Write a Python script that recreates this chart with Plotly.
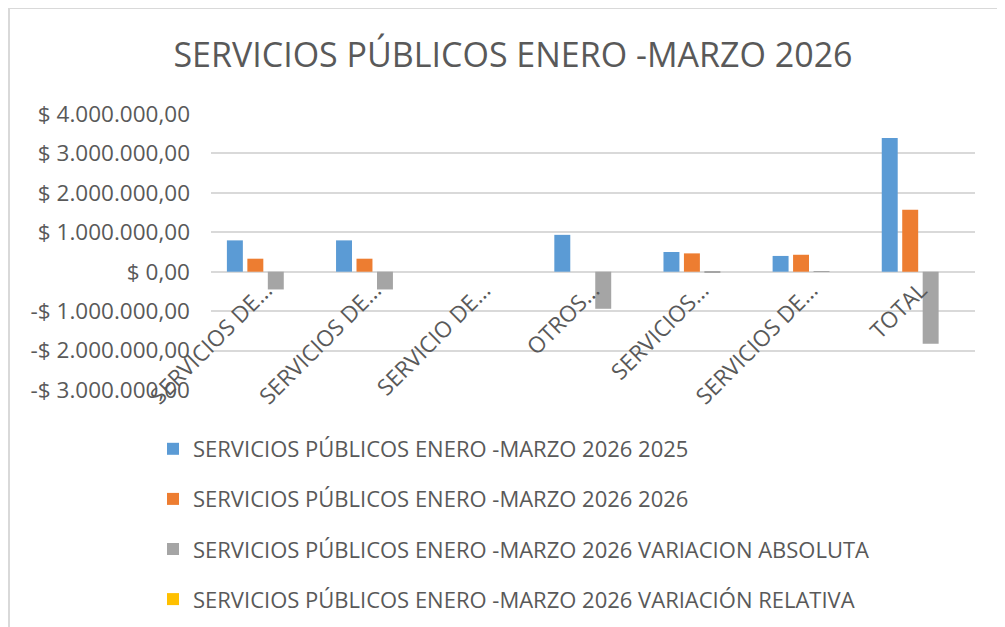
import plotly.graph_objects as go

categories = ["SERVICIOS DE…", "SERVICIOS DE…", "SERVICIO DE…", "OTROS…",
              "SERVICIOS…", "SERVICIOS DE…", "TOTAL"]
series_names = [
    "SERVICIOS PÚBLICOS ENERO -MARZO 2026 2025",
    "SERVICIOS PÚBLICOS ENERO -MARZO 2026 2026",
    "SERVICIOS PÚBLICOS ENERO -MARZO 2026 VARIACION ABSOLUTA",
    "SERVICIOS PÚBLICOS ENERO -MARZO 2026 VARIACIÓN RELATIVA",
]
values_2025 = [795000, 795000, 0, 935000, 500000, 400000, 3390000]
values_2026 = [330000, 330000, 0, 0, 465000, 430000, 1570000]
values_var_abs = [-450000, -450000, 0, -940000, -10000, 10000, -1830000]
values_var_rel = [-0.58, -0.58, 0, -1.0, -0.07, 0.08, -0.54]
y_ticks = [4000000, 3000000, 2000000, 1000000, 0, -1000000, -2000000, -3000000]

colors = ["#5B9BD5", "#ED7D31", "#A5A5A5", "#FFC000"]
FONT = "Open Sans"
TXT = "#595959"


def money(v):
    s = f"{abs(v):,.2f}".replace(",", "X").replace(".", ",").replace("X", ".")
    return ("-$ " if v < 0 else "$ ") + s


x_idx = list(range(len(categories)))
fig = go.Figure()
for i, (name, vals) in enumerate(zip(series_names,
                                     [values_2025, values_2026, values_var_abs, values_var_rel])):
    fig.add_trace(go.Bar(x=x_idx, y=vals, name=name, marker_color=colors[i],
                         marker_line=dict(width=0),
                         legendgroup=f"g{i}"))

# figure coordinates (page has an 8px body offset)
FW, FH = 1005, 627
L, R, T, B = 203, 967, 106, 382
W, H = R - L, B - T
ymin, ymax = -3000000, 4000000
fig.update_layout(
    width=FW, height=FH,
    paper_bgcolor="white", plot_bgcolor="white",
    margin=dict(l=L, r=FW - R, t=T, b=FH - B, autoexpand=False),
    barmode="group", bargap=0.25, bargroupgap=0.22,
    font=dict(family=FONT, color=TXT),
    title=dict(text="SERVICIOS PÚBLICOS ENERO -MARZO 2026",
               font=dict(family=FONT, size=34, color=TXT),
               xref="container", x=505 / FW, xanchor="center",
               yref="container", y=1 - 47 / FH, yanchor="middle"),
    yaxis=dict(range=[ymin, ymax], tickvals=y_ticks,
               ticktext=[money(v) for v in y_ticks],
               showgrid=True, gridcolor="#D9D9D9", gridwidth=1.5,
               zeroline=True, zerolinecolor="#D9D9D9", zerolinewidth=1.5,
               tickfont=dict(size=22.5, color=TXT), ticks="", ticklabelstandoff=20,
               automargin=False),
    xaxis=dict(tickvals=x_idx, ticktext=categories, tickangle=-45,
               range=[-0.5, len(categories) - 0.5],
               anchor="free", position=(0 - ymin) / (ymax - ymin),
               showgrid=False, zeroline=False, showline=False, ticks="",
               tickfont=dict(size=22.5, color=TXT), automargin=False),
    legend=dict(orientation="v", x=(145 - L) / W, xanchor="left",
                y=(B - 420) / H, yanchor="top",
                font=dict(size=22, color=TXT), tracegroupgap=18.5,
                itemwidth=30, bgcolor="rgba(0,0,0,0)"),
    showlegend=True,
)

# chart-area border (left and top edges visible)
fig.add_shape(type="line", xref="paper", yref="paper",
              x0=(1 - L) / W, x1=(1010 - L) / W,
              y0=(B - 0) / H, y1=(B - 0) / H,
              line=dict(color="#D9D9D9", width=2))
fig.add_shape(type="line", xref="paper", yref="paper",
              x0=(1 - L) / W, x1=(1 - L) / W,
              y0=(B - 0) / H, y1=(B - 640) / H,
              line=dict(color="#D9D9D9", width=2))

fig.write_html("out.html")
